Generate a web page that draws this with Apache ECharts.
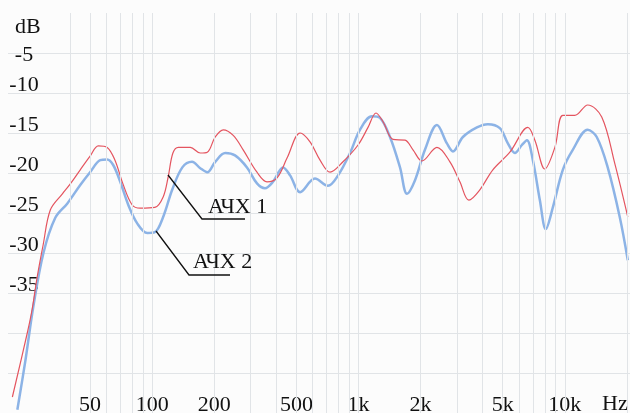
<!DOCTYPE html>
<html>
<head>
<meta charset="utf-8">
<script src="https://cdn.jsdelivr.net/npm/echarts@6/dist/echarts.min.js"></script>
<style>html,body{margin:0;padding:0;background:#fcfcfc}#c{width:630px;height:413px}</style>
</head>
<body>
<div id="c"></div>
<script>
// АЧХ 1 (red)
const redFreq = [21, 24.8, 26.2, 27.7, 29.6, 32.1, 36.7, 40, 44.8, 50, 54.8, 60.5, 66, 72, 80, 87.5, 103, 113, 119.5, 126, 134, 153, 171, 185, 202, 221, 247, 276, 322, 360, 403, 451, 521, 582, 651, 728, 841, 995, 1112, 1216, 1315, 1470, 1680, 1837, 2030, 2400, 2774, 3100, 3428, 3874, 4478, 5415, 6620, 7160, 8000, 8950, 9780, 11170, 12910, 15100, 17460, 20200];
const redDb = [-48, -40, -37, -33, -29, -24.6, -22.6, -21.4, -19.6, -17.9, -16.6, -16.8, -18.4, -21.3, -24, -24.4, -24.3, -23, -20.5, -17.5, -16.8, -16.8, -17.5, -17.4, -15.5, -14.6, -15.3, -17.1, -19.9, -21.1, -20.6, -18.1, -15, -16.1, -18.4, -19.9, -18.6, -16.5, -14.3, -12.5, -13.6, -15.8, -15.9, -17.1, -18.5, -16.8, -18.6, -21.1, -23.4, -22.1, -19.6, -17.4, -14.3, -15.9, -19.5, -16.8, -12.8, -12.8, -11.5, -13, -18.8, -25.5];
// АЧХ 2 (blue)
const blueFreq = [22.2, 24.3, 26.5, 29.7, 33.9, 38.8, 44.8, 50, 56, 60.5, 64.7, 70, 76.6, 84.6, 94.6, 103, 113, 125, 140, 156, 171, 185, 202, 226, 252, 288, 322, 352, 385, 431, 466, 521, 615, 711, 796, 910, 1016, 1162, 1270, 1421, 1589, 1718, 1879, 2099, 2400, 2683, 2870, 3207, 3750, 4237, 4842, 5296, 5728, 6193, 6547, 7000, 7570, 8090, 8750, 9780, 10930, 12910, 14280, 16140, 18460, 20200];
const blueDb = [-49.6, -43.4, -36.8, -30, -25.6, -23.8, -21.5, -19.9, -18.4, -18.3, -19, -21.1, -24, -26.3, -27.5, -27.4, -25.5, -22.1, -19.3, -18.6, -19.4, -19.9, -18.6, -17.5, -17.8, -19.3, -21.3, -21.9, -21.1, -19.3, -20.3, -22.4, -20.7, -21.6, -20.3, -17.5, -14.6, -12.9, -13.1, -15.5, -19.3, -22.6, -20.9, -17.1, -14, -16.3, -17.3, -15.5, -14.3, -13.9, -14.4, -16.3, -17.5, -16.5, -15.9, -18.4, -23.4, -27, -24.3, -19.6, -17.1, -14.6, -15.5, -19.3, -25.5, -30.9];
// axis ticks
const xLabelValues = [50, 100, 200, 500, 1000, 2000, 5000, 10000];
const xGridValues = [40, 50, 60, 70, 80, 90, 100, 200, 300, 400, 500, 600, 700, 800, 900, 1000, 2000, 3000, 4000, 5000, 6000, 7000, 8000, 9000, 10000, 20000];
const yLabelValues = [-5, -10, -15, -20, -25, -30, -35];

const zip = (a, b) => a.map((v, i) => [v, b[i]]);
const FONT = 'Liberation Serif';
const GRID = '#e1e4e7';

const chart = echarts.init(document.getElementById('c'), null, {renderer: 'canvas'});
chart.setOption({
  backgroundColor: '#fcfcfc',
  animation: false,
  grid: {left: 8, right: 0, top: 13, bottom: 0, outerBoundsMode: 'none'},
  xAxis: {
    type: 'log', logBase: 10, min: 20, max: 20700,
    axisLine: {show: false}, axisTick: {show: false},
    splitLine: {show: false}, minorSplitLine: {show: false},
    axisLabel: {
      inside: true, margin: 8, verticalAlign: 'middle',
      customValues: xLabelValues,
      fontFamily: FONT, fontSize: 22, color: '#111',
      formatter: v => v >= 1000 ? (v / 1000) + 'k' : String(v)
    }
  },
  yAxis: {
    type: 'value', min: -50, max: 0, interval: 5,
    axisLine: {show: false}, axisTick: {show: false},
    splitLine: {show: true, showMinLine: false, showMaxLine: false, lineStyle: {color: GRID, width: 1}},
    name: 'dB', nameLocation: 'end', nameGap: -14,
    nameTextStyle: {fontFamily: FONT, fontSize: 22, color: '#111', align: 'left', verticalAlign: 'middle', padding: [0, 0, 0, 7]},
    axisLabel: {
      inside: true, margin: 16, align: 'center', verticalAlign: 'middle',
      padding: [0, 0, 15, 0],
      fontFamily: FONT, fontSize: 22, color: '#111',
      formatter: v => v === -5 ? '{low|-5}' : (yLabelValues.indexOf(v) >= 0 ? String(v) : ''),
      rich: {low: {fontFamily: FONT, fontSize: 22, color: '#111', padding: [19, 0, 0, 0]}}
    }
  },
  series: [
    {
      type: 'line', data: [], z: 1, silent: true,
      markLine: {
        silent: true, symbol: ['none', 'none'], label: {show: false},
        lineStyle: {color: GRID, width: 1, type: 'solid'},
        emphasis: {disabled: true},
        data: xGridValues.map(v => ({xAxis: v}))
      }
    },
    {
      name: 'АЧХ 2', type: 'line', data: zip(blueFreq, blueDb), z: 3,
      smooth: 0.35, showSymbol: false, clip: true,
      lineStyle: {color: '#8cb3e6', width: 2.5}
    },
    {
      name: 'АЧХ 1', type: 'line', data: zip(redFreq, redDb), z: 4,
      smooth: 0.35, showSymbol: false, clip: true,
      lineStyle: {color: '#e4545f', width: 1.2}
    }
  ],
  graphic: [
    {type: 'text', x: 602, y: 404.5, style: {text: 'Hz', font: '22px ' + FONT, fill: '#111', textAlign: 'left', textVerticalAlign: 'middle'}, z: 10},
    {type: 'polyline', shape: {points: [[168, 175], [202, 219], [245, 219]]}, style: {stroke: '#111', lineWidth: 1.3, fill: null}, z: 10},
    {type: 'text', x: 208, y: 207.5, style: {text: 'АЧХ 1', font: '22px ' + FONT, fill: '#111', textAlign: 'left', textVerticalAlign: 'middle'}, z: 10},
    {type: 'polyline', shape: {points: [[156, 231], [189, 275], [230, 275]]}, style: {stroke: '#111', lineWidth: 1.3, fill: null}, z: 10},
    {type: 'text', x: 193, y: 262.5, style: {text: 'АЧХ 2', font: '22px ' + FONT, fill: '#111', textAlign: 'left', textVerticalAlign: 'middle'}, z: 10}
  ]
});
</script>
</body>
</html>
